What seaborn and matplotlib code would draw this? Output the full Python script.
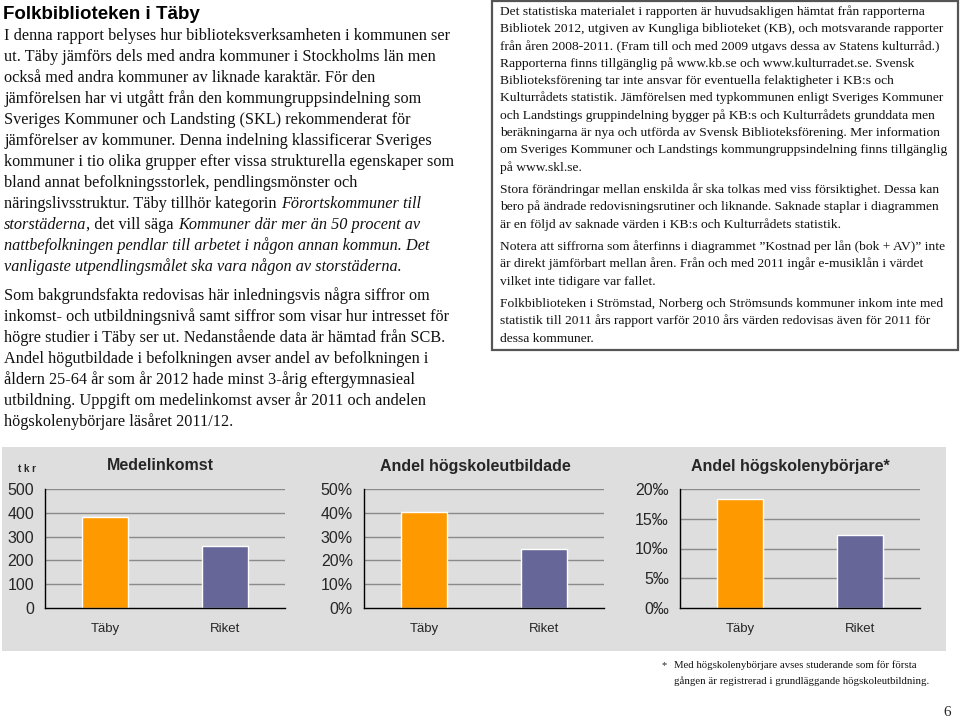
import matplotlib
matplotlib.use('Agg')
import matplotlib.pyplot as plt
import seaborn as sns
import numpy as np
import pandas as pd
from matplotlib.patches import Rectangle

W, H = 960, 718

# data read from the page
categories = ['Täby', 'Riket']
medelinkomst = [384, 260]          # tkr
hogskoleutbildade = [40.5, 24.8]   # %
hogskolenyborjare = [18.4, 12.3]   # promille
bar_colors = ['#FF9900', '#666699']

panel_titles = ['Medelinkomst', 'Andel högskoleutbildade', 'Andel högskolenybörjare*']
panel_ticks = [[0, 100, 200, 300, 400, 500],
               [0, 10, 20, 30, 40, 50],
               [0, 5, 10, 15, 20]]
panel_units = ['', '%', '‰']

title = 'Folkbiblioteken i Täby'

# left column, one entry per line: list of (text, italic)
left_para1 = [
    [('I denna rapport belyses hur biblioteksverksamheten i kommunen ser', 0)],
    [('ut. Täby jämförs dels med andra kommuner i Stockholms län men', 0)],
    [('också med andra kommuner av liknade karaktär. För den', 0)],
    [('jämförelsen har vi utgått från den kommungruppsindelning som', 0)],
    [('Sveriges Kommuner och Landsting (SKL) rekommenderat för', 0)],
    [('jämförelser av kommuner. Denna indelning klassificerar Sveriges', 0)],
    [('kommuner i tio olika grupper efter vissa strukturella egenskaper som', 0)],
    [('bland annat befolkningsstorlek, pendlingsmönster och', 0)],
    [('näringslivsstruktur. Täby tillhör kategorin', 0), ('Förortskommuner till', 1)],
    [('storstäderna', 1), (', det vill säga', 0), ('Kommuner där mer än 50 procent av', 1)],
    [('nattbefolkningen pendlar till arbetet i någon annan kommun. Det', 1)],
    [('vanligaste utpendlingsmålet ska vara någon av storstäderna.', 1)],
]
left_para2 = [
    'Som bakgrundsfakta redovisas här inledningsvis några siffror om',
    'inkomst- och utbildningsnivå samt siffror som visar hur intresset för',
    'högre studier i Täby ser ut. Nedanstående data är hämtad från SCB.',
    'Andel högutbildade i befolkningen avser andel av befolkningen i',
    'åldern 25-64 år som år 2012 hade minst 3-årig eftergymnasieal',
    'utbildning. Uppgift om medelinkomst avser år 2011 och andelen',
    'högskolenybörjare läsåret 2011/12.',
]

box_paras = [
    ['Det statistiska materialet i rapporten är huvudsakligen hämtat från rapporterna',
     'Bibliotek 2012, utgiven av Kungliga biblioteket (KB), och motsvarande rapporter',
     'från åren 2008-2011. (Fram till och med 2009 utgavs dessa av Statens kulturråd.)',
     'Rapporterna finns tillgänglig på www.kb.se och www.kulturradet.se. Svensk',
     'Biblioteksförening tar inte ansvar för eventuella felaktigheter i KB:s och',
     'Kulturrådets statistik. Jämförelsen med typkommunen enligt Sveriges Kommuner',
     'och Landstings gruppindelning bygger på KB:s och Kulturrådets grunddata men',
     'beräkningarna är nya och utförda av Svensk Biblioteksförening. Mer information',
     'om Sveriges Kommuner och Landstings kommungruppsindelning finns tillgänglig',
     'på www.skl.se.'],
    ['Stora förändringar mellan enskilda år ska tolkas med viss försiktighet. Dessa kan',
     'bero på ändrade redovisningsrutiner och liknande. Saknade staplar i diagrammen',
     'är en följd av saknade värden i KB:s och Kulturrådets statistik.'],
    ['Notera att siffrorna som återfinns i diagrammet ”Kostnad per lån (bok + AV)” inte',
     'är direkt jämförbart mellan åren. Från och med 2011 ingår e-musiklån i värdet',
     'vilket inte tidigare var fallet.'],
    ['Folkbiblioteken i Strömstad, Norberg och Strömsunds kommuner inkom inte med',
     'statistik till 2011 års rapport varför 2010 års värden redovisas även för 2011 för',
     'dessa kommuner.'],
]
box_para_tops = [15, 193, 250, 307]

footnote = ['Med högskolenybörjare avses studerande som för första',
            'gången är registrerad i grundläggande högskoleutbildning.']

sns.set_theme(style='white')
plt.rcParams['font.family'] = ['Liberation Sans', 'DejaVu Sans']

fig = plt.figure(figsize=(W / 100, H / 100), dpi=100)
renderer = fig.canvas.get_renderer()


def fx(x):
    return x / W


def fy(y):
    return 1 - y / H


def text_width(s, **kw):
    t = fig.text(0, 0, s, **kw)
    w = t.get_window_extent(renderer).width
    t.remove()
    return w


def put_line(x, y, segments, size):
    kw = dict(family='Liberation Serif', size=size)
    space = text_width('x x', **kw) - text_width('xx', **kw)
    for i, (s, ital) in enumerate(segments):
        if i > 0 and not s.startswith(','):
            x += space
        t = fig.text(fx(x), fy(y), s, va='baseline', ha='left', color='#111111',
                     style='italic' if ital else 'normal', **kw)
        x += t.get_window_extent(renderer).width


# page text
fig.text(fx(3), fy(19), title, family='Liberation Sans', weight='bold', size=13.5,
         va='baseline', color='black')
for i, line in enumerate(left_para1):
    put_line(4, 40 + i * 21, line, 11.7)
for i, line in enumerate(left_para2):
    put_line(4, 300 + i * 21, [(line, 0)], 11.7)

fig.patches.append(Rectangle((fx(492), fy(350)), fx(466), (350 - 1) / H,
                             transform=fig.transFigure, facecolor='white',
                             edgecolor='#555555', lw=1.6, zorder=-1))
for top, para in zip(box_para_tops, box_paras):
    for i, line in enumerate(para):
        put_line(500, top + i * 17.3, [(line, 0)], 9.7)

# gray chart band
fig.patches.append(Rectangle((fx(2), fy(651)), fx(944), (651 - 447) / H,
                             transform=fig.transFigure, facecolor='#dedede',
                             edgecolor='none', zorder=-1))

axes_left = [45, 364, 680]
axes_w = 240
title_x = [160, 475, 790]
panel_values = [medelinkomst, hogskoleutbildade, hogskolenyborjare]

for k in range(3):
    ax = fig.add_axes([fx(axes_left[k]), fy(608), axes_w / W, (608 - 489) / H])
    df = pd.DataFrame({'kategori': categories, 'varde': panel_values[k]})
    sns.barplot(data=df, x='kategori', y='varde', hue='kategori', palette=bar_colors,
                legend=False, width=0.39, saturation=1, ax=ax, zorder=3)
    ticks = panel_ticks[k]
    ax.set_ylim(0, ticks[-1])
    ax.set_xlim(-0.5, 1.5)
    ax.set_yticks(ticks)
    ax.set_yticklabels([f'{v}{panel_units[k]}' for v in ticks], size=11.5)
    ax.set_xticks([-0.5, 0.5, 1.5])
    ax.set_xticklabels([])
    ax.set_xticks([0, 1], minor=True)
    ax.set_xticklabels(categories, minor=True, size=9.5)
    ax.tick_params(axis='x', which='minor', length=0, pad=11)
    ax.tick_params(axis='x', which='major', length=4, width=1, color='black', direction='out')
    ax.tick_params(axis='y', length=5, width=1, color='black', direction='out', pad=3)
    ax.set_xlabel('')
    ax.set_ylabel('')
    ax.set_facecolor('none')
    for side in ['top', 'right']:
        ax.spines[side].set_visible(False)
    for side in ['left', 'bottom']:
        ax.spines[side].set_color('black')
        ax.spines[side].set_linewidth(1)
        ax.spines[side].set_zorder(4)
    for v in ticks[1:]:
        ax.axhline(v, color='#8a8a8a', lw=1, zorder=1)
    fig.text(fx(title_x[k]), fy(466), panel_titles[k], ha='center', va='center',
             family='Liberation Sans', weight='bold', size=11.5)

fig.text(fx(27), fy(469), 't k r', ha='center', va='center', weight='bold', size=7)

# footnote and page number
fig.text(fx(661), fy(668), '*', family='Liberation Serif', size=7.5, va='baseline')
for i, line in enumerate(footnote):
    put_line(674, 668 + i * 16, [(line, 0)], 7.75)
fig.text(fx(943), fy(716), '6', family='Liberation Serif', size=11, va='baseline')

fig.savefig('out.png', dpi=100)
